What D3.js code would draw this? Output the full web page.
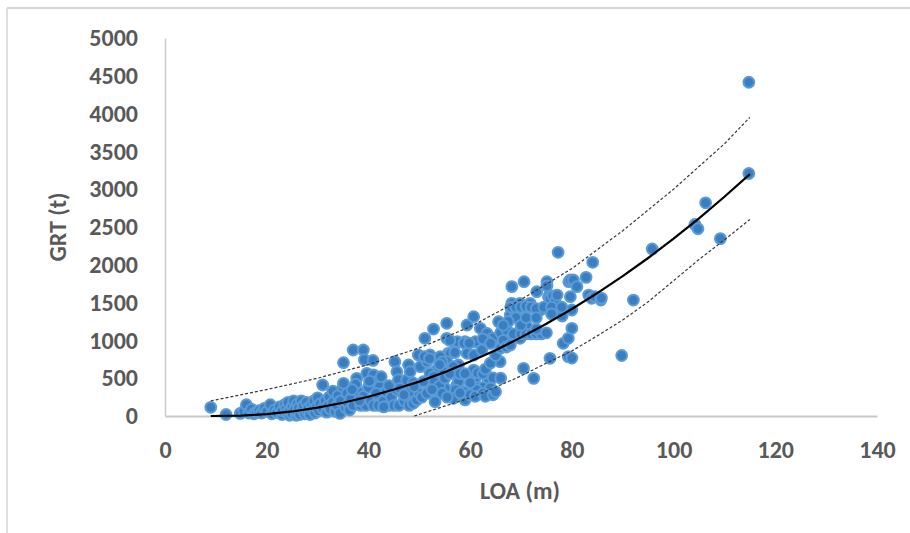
<!DOCTYPE html>
<html><head><meta charset="utf-8">
<script src="https://cdn.jsdelivr.net/npm/d3@7"></script>
<style>body{margin:0;background:#fff}svg{display:block}</style>
</head><body>
<svg id="chart" width="910" height="533"></svg>
<script>
// ---- data ----
const xTicks = [0, 20, 40, 60, 80, 100, 120, 140];
const yTicks = [0, 500, 1000, 1500, 2000, 2500, 3000, 3500, 4000, 4500, 5000];
const xLabel = "LOA (m)";
const yLabel = "GRT (t)";

// observed ships: [LOA (m), GRT (t)]
const ships = [
 [9,115],[12,20],[14.8,35],[15.5,60],[16,150],[16.5,40],[17,90],[17.5,30],[18,50],[18.5,70],[19,40],[19.5,100],[20,60],[20.7,150],[21,30],[21.5,80],[22,45],[22.5,120],[23,20],[23,70],[23.5,150],[23.8,100],[24,40],[24.2,180],[24.5,10],[24.5,70],[25,130],[25,30],[25.3,200],[25.5,90],[25.8,10],[26,160],[26,50],[26.3,110],[26.5,20],[26.8,200],[27,80],[27.2,140],[27.5,30],[27.8,180],[28,60],[28.2,110],[28.5,20],[28.8,150],[29,80],[29.3,200],[29.5,40],[29.8,120],[30,240],[30.2,70],[30.5,160],[31,410],[31,100],[31.5,200],[31.8,50],[32,130],[32.3,250],[32.5,90],[33,180],[33,330],[33.5,60],[33.8,140],[34,270],[34.4,35],[34.5,200],[35,380],[35.1,432],[35.1,705],[35.5,110],[35.8,300],[36,160],[36.3,80],
 [37,873],[39,873],[39.2,745],[40.9,735],[37.7,498],[39.7,565],[41,545],[41.6,454],[42.2,388],[42.9,300],[36.5,230],[37,140],[38,320],[38.5,140],[39,260],[39.5,140],[40,380],[40.5,200],[41,140],[41.5,300],[42,140],[43,200],[43.5,320],[44,140],[44.5,250],[45,140],[45.2,718],[45.6,586],[45.9,480],[45.6,344],[46,140],[46.2,366],[47,200],[47.5,476],[47.9,675],[48.2,586],[48.2,321],[48,140],[48.8,168],[49.5,212],[48.8,437],[49.8,807],[50.2,652],[50.8,454],[50,300],[37.5,420],[36.8,350],[38.2,200],[40.2,460],[42.5,520],[44,400],[43,120],[47,280],[49,390],[50.5,250],
 [51.1,1028],[51.5,718],[52.1,807],[52.8,1150],[55.4,1226],[55.4,1028],[57.1,961],[55.7,829],[54.1,785],[53.4,608],[54.8,608],[52.1,565],[53.4,344],[55.1,366],[53.1,190],[57.7,675],[57.4,410],[56.7,278],[58.7,321],[59,212],[59.4,829],[59.4,1204],[60.7,1314],[62,1160],[63.3,1094],[64.4,1030],[65.6,1248],[59,983],[57.5,983],[61,983],[56.1,829],[57,840],[55.4,718],[56.7,652],[60.7,807],[62.3,873],[60.7,608],[61,498],[63.5,500],[64.5,505],[66,500],[61.5,377],[62.5,377],[64,370],[61.3,344],[65.9,718],[57.7,454],[57.1,344],[56.7,234],[60,278],[61,260],[62.5,300],[63,260],[64.5,280],[65,320],[52.8,520],[54.5,714],[54,680],[56,1000],[58.8,965],[59.8,965],[63.2,1000],[62.5,1020],[64,960],[51,785],[52,760],[53,450],[54,400],[55,500],[56,560],[58,560],[58,305],[59,560],[60,440],[61.5,570],[62.5,560],[63,620],[64,700],[65,800],[66,900],[66,1100],[66.5,1000],[54.5,300],[55.5,250],[51.5,300],[52.5,350],
 [67.1,913],[67.2,1138],[67.9,939],[67.9,1336],[68.2,1491],[68.2,1711],[68.9,1358],[69.8,1491],[69.8,1028],[70.5,630],[70.6,1777],[71.2,1181],[71.8,1491],[72.5,498],[72.8,1094],[73.1,1644],[73.8,1402],[75.1,1777],[75.1,1720],[75.4,1578],[75.7,1557],[75.7,763],[76.3,1587],[76.7,1402],[76.7,1512],[77.1,1600],[77.3,2165],[78.1,1323],[78.3,961],[79.3,785],[79.3,1028],[79.4,1777],[79.7,1578],[79.7,1800],[80,1402],[80,1160],[80,767],[80.3,1799],[81,1711],[68,1440],[69,1440],[70,1440],[71,1450],[72,1440],[73,1420],[74.5,1440],[76,1440],[78,1440],[69,1300],[68.5,1085],[70,1085],[71,1085],[72,1085],[73,1085],[74,1085],[70,1200],[73,1150],[67.5,1250],[66.5,1200],[75,1100],[76,1350],[71,1300],[73,1300],
 [82.8,1834],[83.3,1600],[83.9,1557],[84.1,2033],[84.5,1580],[85.7,1534],[85.8,1560],[89.8,800],[92.1,1534],[95.8,2209],[104.2,2534],[104.8,2477],[106.3,2820],[109.2,2346],[114.8,4415],[114.8,3208]
];

// fitted curve and prediction bounds
const fitLoa   = [9, 15, 20, 25, 30, 35, 40, 45, 50, 55, 60, 65, 70, 75, 80, 85, 90, 95, 100, 105, 110, 115];
const fitGrt   = [0, 5, 25, 60, 110, 175, 255, 350, 455, 580, 720, 870, 1040, 1220, 1415, 1625, 1850, 2090, 2345, 2615, 2900, 3200];
const upperLoa = [9, 20, 30, 40, 50, 60, 70, 80, 90, 100, 110, 115];
const upperGrt = [200, 350, 500, 680, 900, 1180, 1540, 1950, 2450, 3000, 3600, 3950];
const lowerLoa = [49, 55, 60, 65, 70, 75, 80, 85, 90, 95, 100, 105, 110, 115];
const lowerGrt = [0, 130, 240, 380, 530, 700, 860, 1060, 1270, 1510, 1790, 2070, 2330, 2600];

// ---- drawing ----
const svg = d3.select("#chart");
const font = "Carlito, Calibri, 'Open Sans', sans-serif";
const textColor = "#595959";

const x = d3.scaleLinear().domain([0, 140]).range([165, 877]);
const y = d3.scaleLinear().domain([0, 5000]).range([416, 38]);

// outer frame (partially visible)
svg.append("line").attr("x1", 7).attr("x2", 910).attr("y1", 8).attr("y2", 8)
  .attr("stroke", "#d4d4d4").attr("stroke-width", 2);
svg.append("line").attr("x1", 7).attr("x2", 7).attr("y1", 8).attr("y2", 533)
  .attr("stroke", "#d4d4d4").attr("stroke-width", 1.5);

// axes
const xAxis = svg.append("g").attr("transform", `translate(0,${y(0)})`)
  .call(d3.axisBottom(x).tickValues(xTicks).tickSize(0).tickPadding(26).tickFormat(d3.format("d")));
const yAxis = svg.append("g").attr("transform", `translate(${x(0)},0)`)
  .call(d3.axisLeft(y).tickValues(yTicks).tickSize(0).tickPadding(27).tickFormat(d3.format("d")));
xAxis.select(".domain").attr("stroke", "#c8c8c8").attr("stroke-width", 2);
yAxis.select(".domain").attr("stroke", "#cccccc").attr("stroke-width", 1.5);
[xAxis, yAxis].forEach(g => g.selectAll("text")
  .attr("fill", textColor).style("font-family", font).style("font-weight", "bold").style("font-size", "24px"));
xAxis.selectAll("text").attr("dy", "0.35em").attr("y", 34);

// axis titles
svg.append("text").attr("x", 520).attr("y", 491).attr("dy", "0.35em")
  .attr("text-anchor", "middle").attr("fill", textColor)
  .style("font-family", font).style("font-weight", "bold").style("font-size", "24px").text(xLabel);
svg.append("text").attr("transform", "translate(58,227) rotate(-90)").attr("dy", "0.35em")
  .attr("text-anchor", "middle").attr("fill", textColor)
  .style("font-family", font).style("font-weight", "bold").style("font-size", "24px").text(yLabel);

// points
svg.append("g").selectAll("circle").data(ships).join("circle")
  .attr("cx", d => x(d[0])).attr("cy", d => y(d[1])).attr("r", 5.4)
  .attr("fill", "#3a7ec2").attr("stroke", "#5b9bd5").attr("stroke-width", 2);

// curves
const line = d3.line().x(d => x(d[0])).y(d => y(d[1]));
const zip = (a, b) => a.map((v, i) => [v, b[i]]);
svg.append("path").datum(zip(upperLoa, upperGrt)).attr("d", line)
  .attr("fill", "none").attr("stroke", "#3a3a3a").attr("stroke-width", 1.2).attr("stroke-dasharray", "3,2");
svg.append("path").datum(zip(lowerLoa, lowerGrt)).attr("d", line)
  .attr("fill", "none").attr("stroke", "#3a3a3a").attr("stroke-width", 1.2).attr("stroke-dasharray", "3,2");
svg.append("path").datum(zip(fitLoa, fitGrt)).attr("d", line)
  .attr("fill", "none").attr("stroke", "#000").attr("stroke-width", 2.2);
</script>
</body></html>
